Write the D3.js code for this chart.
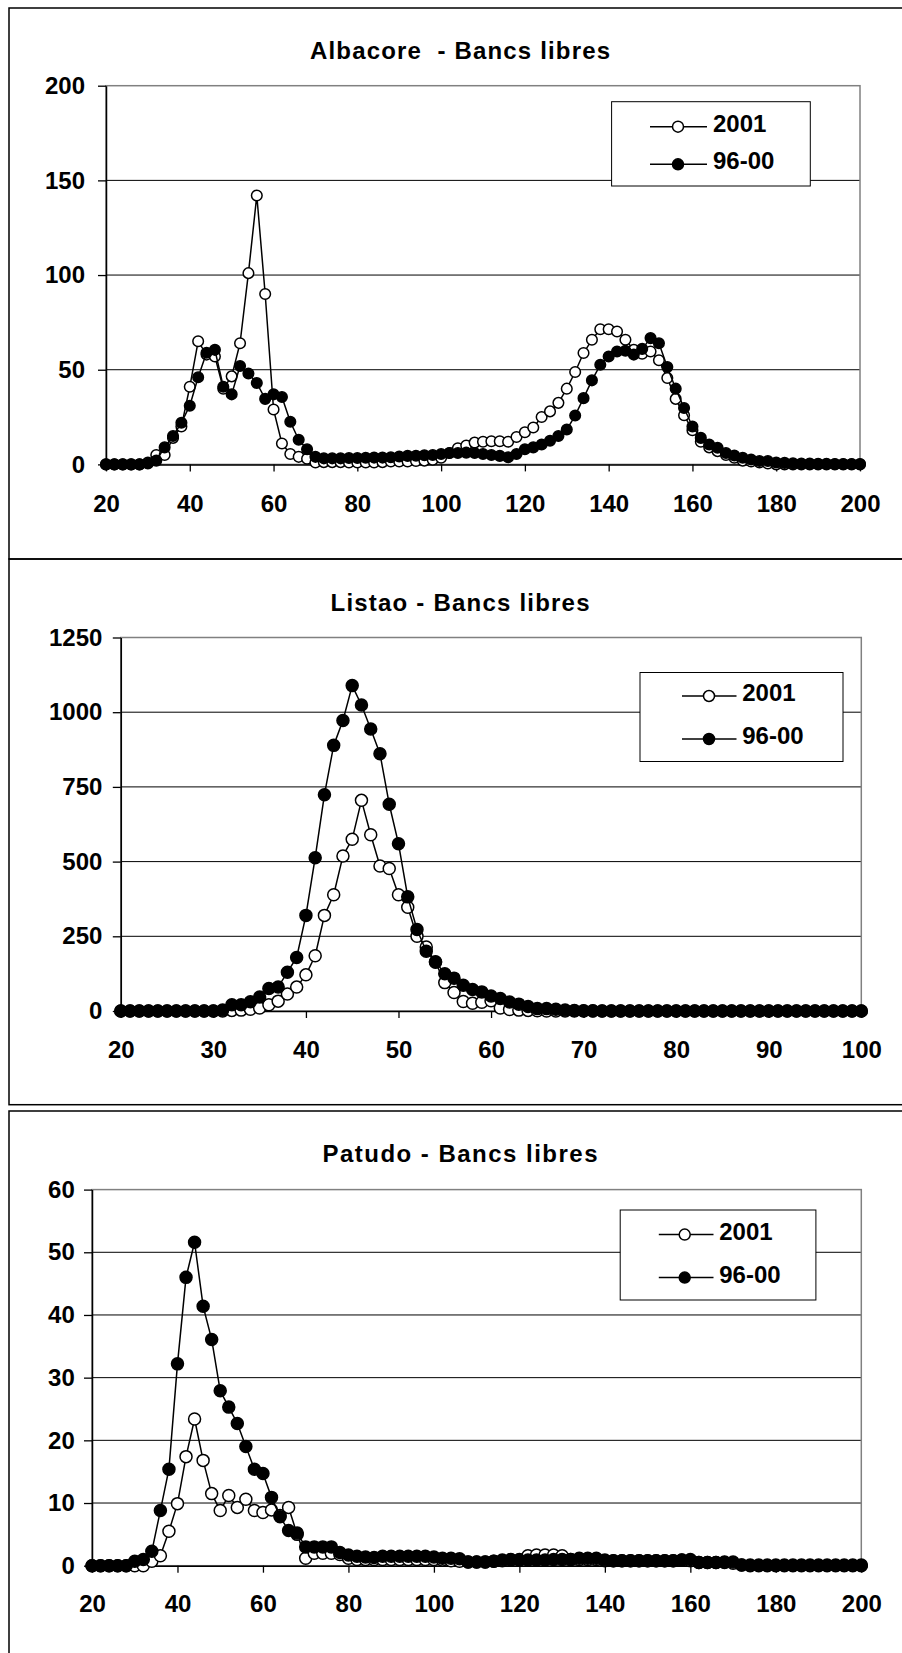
<!DOCTYPE html>
<html><head><meta charset="utf-8">
<script src="https://cdn.jsdelivr.net/npm/d3@7"></script>
<style>
body{margin:0;background:#fff}
svg{display:block}
text{font-family:"Liberation Sans",Arial,sans-serif;font-weight:bold;fill:#000}
.ttl{white-space:pre}
</style>
</head><body>
<svg id="c" width="902" height="1653"></svg>
<script>
// ---------- DATA ----------
const seriesNames = ["2001", "96-00"];
const titles = ["Albacore  - Bancs libres", "Listao - Bancs libres", "Patudo - Bancs libres"];

// Albacore (sizes in cm, step 2)
const albSizes = [20,22,24,26,28,30,32,34,36,38,40,42,44,46,48,50,52,54,56,58,60,62,64,66,68,70,72,74,76,78,80,82,84,86,88,90,92,94,96,98,100,102,104,106,108,110,112,114,116,118,120,122,124,126,128,130,132,134,136,138,140,142,144,146,148,150,152,154,156,158,160,162,164,166,168,170,172,174,176,178,180,182,184,186,188,190,192,194,196,198,200];
const alb2001 = [0,0,0,0,0,1,5,5,14,20,
  41,65,58,57,40,46.5,64,101,142,90,
  29,11,5.5,4,3,1,1.2,1.2,1.2,1,
  1,1,1,1.2,1.5,1.5,1.5,1.8,2,2.5,
  3.5,6,8.5,10,11.5,12,12.2,12.2,12,14.5,
  17,19.5,25,28,32.5,40,48.8,58.8,65.8,71.4,
  71.4,70.2,65.8,60.5,58.4,59.6,55,45.6,34.6,26,
  18,12,9,7,5,3.5,2,1.5,1,0.5,
  0,0,0,0,0,0,0,0,0,0,
  0];
const alb9600 = [0,0,0,0,0,0.5,2,9,15,22,
  31,46,59,60.5,41,37,52,48,43,34.6,
  37,35.6,22.5,13,8,4,3.2,3.2,3.2,3.4,
  3.4,3.5,3.6,3.6,3.8,4.2,4.5,4.6,4.8,5,
  5.5,6,6,6.2,6,5.5,5,4.5,3.8,5.5,
  8,9,10.5,12.5,15,18.4,25.8,35,44.4,52.6,
  57,59.6,60,58,61,66.7,64,51.4,40,29.8,
  20,14,10.5,8.8,6,4.7,3.5,2.6,1.8,1.8,
  1,0.8,0.6,0.5,0.4,0.3,0.3,0.2,0.2,0.2,
  0.2];
const albYTicks = [0,50,100,150,200];
const albXTicks = [20,40,60,80,100,120,140,160,180,200];

// Listao (sizes in cm, step 1)
const lisSizes = [20,21,22,23,24,25,26,27,28,29,30,31,32,33,34,35,36,37,38,39,40,41,42,43,44,45,46,47,48,49,50,51,52,53,54,55,56,57,58,59,60,61,62,63,64,65,66,67,68,69,70,71,72,73,74,75,76,77,78,79,80,81,82,83,84,85,86,87,88,89,90,91,92,93,94,95,96,97,98,99,100];
const lis2001 = [0,0,0,0,0,0,0,0,0,0,
  0,0,2,3,6,10,21,33,57,80,
  121,185,320,389,519,575,705,590,485,477,
  389,347,250,214,163,95,62,32,26,29,
  34,10,5,3,2,1,0,0,0,0,
  0,0,0,0,0,0,0,0,0,0,
  0,0,0,0,0,0,0,0,0,0,
  0,0,0,0,0,0,0,0,0,0,
  0];
const lis9600 = [0,0,0,0,0,0,0,0,0,0,
  0,3,21,21,31,47,75,80,130,179,
  320,513,724,889,972,1089,1024,944,861,692,
  560,382,273,200,165,125,110,86,72,64,
  50,42,30,23,15,8,8,6,3,2,
  1,0.5,0,0,0,0,0,0,0,0,
  0,0,0,0,0,0,0,0,0,0,
  0,0,0,0,0,0,0,0,0,0,
  0];
const lisYTicks = [0,250,500,750,1000,1250];
const lisXTicks = [20,30,40,50,60,70,80,90,100];

// Patudo (sizes in cm, step 2)
const patSizes = [20,22,24,26,28,30,32,34,36,38,40,42,44,46,48,50,52,54,56,58,60,62,64,66,68,70,72,74,76,78,80,82,84,86,88,90,92,94,96,98,100,102,104,106,108,110,112,114,116,118,120,122,124,126,128,130,132,134,136,138,140,142,144,146,148,150,152,154,156,158,160,162,164,166,168,170,172,174,176,178,180,182,184,186,188,190,192,194,196,198,200];
const pat2001 = [0,0,0,0,0,0,0,0.7,1.6,5.5,
  9.9,17.4,23.4,16.8,11.5,8.8,11.2,9.3,10.6,8.8,
  8.5,8.9,8,9.3,5,1.2,2,2,2,1.8,
  1.2,1,1,1,1,1,1,1,1,1,
  1,0.9,0.8,0.7,0.6,0.6,0.6,0.7,0.8,0.9,
  1,1.6,1.7,1.7,1.7,1.6,1,1,1,1,
  0.8,0.8,0.8,0.8,0.8,0.8,0.8,0.8,0.8,0.9,
  0.8,0.5,0.5,0.5,0.5,0.4,0.1,0,0,0,
  0,0,0,0,0,0,0,0,0,0,
  0];
const pat9600 = [0,0,0,0,0,0.7,1,2.3,8.8,15.4,
  32.2,46,51.6,41.4,36.1,27.9,25.3,22.7,19,15.4,
  14.7,10.9,7.8,5.6,5.2,3,3,3,3,2.1,
  1.7,1.5,1.4,1.3,1.5,1.5,1.5,1.5,1.5,1.5,
  1.4,1.2,1.2,1.1,0.6,0.6,0.6,0.7,0.9,1,
  0.9,0.9,0.9,0.9,1,1,1,1.2,1.2,1.2,
  0.9,0.8,0.8,0.8,0.8,0.8,0.8,0.8,0.8,0.9,
  1,0.5,0.5,0.5,0.6,0.6,0.1,0.1,0.1,0.1,
  0.1,0.1,0.1,0.1,0.1,0.1,0.1,0.1,0.1,0.1,
  0.1];
const patYTicks = [0,10,20,30,40,50,60];
const patXTicks = [20,40,60,80,100,120,140,160,180,200];

// ---------- LAYOUT ----------
const panels = [
  {title: titles[0], sizes: albSizes, s1: alb2001, s2: alb9600, yTicks: albYTicks, xTicks: albXTicks,
   frame: {y: 8, h: 551}, plot: {l: 106, r: 860, t: 85.7, b: 464.4},
   titleY: 59.3, titleW: 300, yPad: 13, xBase: 48, r: 5.3,
   legend: {x: 611.6, y: 101.7, w: 198.7, h: 84.3, lx1: 650, lx2: 707, mx: 678, tx: 713, base: [131.7, 169.3]}},
  {title: titles[1], sizes: lisSizes, s1: lis2001, s2: lis9600, yTicks: lisYTicks, xTicks: lisXTicks,
   frame: {y: 559, h: 545.7}, plot: {l: 120.8, r: 861.3, t: 637.5, b: 1011},
   titleY: 611, titleW: 259, yPad: 10.4, xBase: 46.7, r: 6,
   legend: {x: 640, y: 672.5, w: 203, h: 89, lx1: 682, lx2: 736.5, mx: 709, tx: 742.2, base: [701, 744]}},
  {title: titles[2], sizes: patSizes, s1: pat2001, s2: pat9600, yTicks: patYTicks, xTicks: patXTicks,
   frame: {y: 1111, h: 600}, plot: {l: 92, r: 861.3, t: 1189.6, b: 1565.7},
   titleY: 1161.6, titleW: 275, yPad: 9.2, xBase: 46, r: 6,
   legend: {x: 620.2, y: 1210, w: 195.7, h: 90, lx1: 658.8, lx2: 713.5, mx: 684.7, tx: 719.2, base: [1239.6, 1282.6]}}
];

const svg = d3.select("#c");
svg.append("rect").attr("width", 902).attr("height", 1653).attr("fill", "#fff");

panels.forEach(p => {
  const g = svg.append("g");
  // outer frame
  g.append("rect").attr("x", 9).attr("y", p.frame.y).attr("width", 900).attr("height", p.frame.h)
    .attr("fill", "none").attr("stroke", "#000").attr("stroke-width", 1.5);

  const x = d3.scaleLinear().domain([p.sizes[0], p.sizes[p.sizes.length - 1]]).range([p.plot.l, p.plot.r]);
  const y = d3.scaleLinear().domain([0, p.yTicks[p.yTicks.length - 1]]).range([p.plot.b, p.plot.t]);

  // title
  g.append("text").attr("class", "ttl").attr("x", 460).attr("y", p.titleY)
    .attr("text-anchor", "middle").attr("font-size", 24)
    .attr("textLength", p.titleW).attr("lengthAdjust", "spacing").text(p.title);

  // gridlines
  g.selectAll(".grid").data(p.yTicks.slice(1, -1)).enter().append("line")
    .attr("x1", p.plot.l).attr("x2", p.plot.r)
    .attr("y1", d => y(d)).attr("y2", d => y(d))
    .attr("stroke", "#000").attr("stroke-width", 1);

  // plot area border (gray)
  g.append("rect").attr("x", p.plot.l).attr("y", p.plot.t)
    .attr("width", p.plot.r - p.plot.l).attr("height", p.plot.b - p.plot.t)
    .attr("fill", "none").attr("stroke", "#808080").attr("stroke-width", 1.5);

  // axes
  const fmt = d3.format("d");
  const ya = g.append("g").attr("transform", `translate(${p.plot.l},0)`)
    .call(d3.axisLeft(y).tickValues(p.yTicks).tickFormat(fmt).tickSize(8).tickSizeOuter(0).tickPadding(p.yPad));
  const xa = g.append("g").attr("transform", `translate(0,${p.plot.b})`)
    .call(d3.axisBottom(x).tickValues(p.xTicks).tickFormat(fmt).tickSize(7).tickSizeOuter(0));
  [ya, xa].forEach(a => {
    a.select(".domain").attr("stroke", "#000").attr("stroke-width", 1.5);
    a.selectAll(".tick line").attr("stroke", "#000").attr("stroke-width", 1.3);
    a.selectAll("text").attr("font-size", 24).attr("font-family", '"Liberation Sans",Arial,sans-serif')
      .attr("font-weight", "bold").attr("fill", "#000");
  });
  xa.selectAll("text").attr("y", p.xBase).attr("dy", 0);

  // series
  const line = d3.line().x((d, i) => x(p.sizes[i])).y(d => y(d));
  const series = [{v: p.s1, fill: "#fff"}, {v: p.s2, fill: "#000"}];
  series.forEach(s => {
    g.append("path").datum(s.v).attr("d", line).attr("fill", "none")
      .attr("stroke", "#000").attr("stroke-width", 1.5).attr("stroke-linejoin", "round");
    g.selectAll(null).data(s.v).enter().append("circle")
      .attr("cx", (d, i) => x(p.sizes[i])).attr("cy", d => y(d)).attr("r", p.r)
      .attr("fill", s.fill).attr("stroke", "#000").attr("stroke-width", 1.5);
  });

  // legend
  const L = p.legend;
  g.append("rect").attr("x", L.x).attr("y", L.y).attr("width", L.w).attr("height", L.h)
    .attr("fill", "#fff").attr("stroke", "#000").attr("stroke-width", 1);
  seriesNames.forEach((name, i) => {
    const cy = L.base[i] - 5;
    g.append("line").attr("x1", L.lx1).attr("x2", L.lx2).attr("y1", cy).attr("y2", cy)
      .attr("stroke", "#000").attr("stroke-width", 1.5);
    g.append("circle").attr("cx", L.mx).attr("cy", cy).attr("r", 5.5)
      .attr("fill", series[i].fill).attr("stroke", "#000").attr("stroke-width", 1.5);
    g.append("text").attr("x", L.tx).attr("y", L.base[i]).attr("font-size", 24).text(name);
  });
});
</script>
</body></html>
